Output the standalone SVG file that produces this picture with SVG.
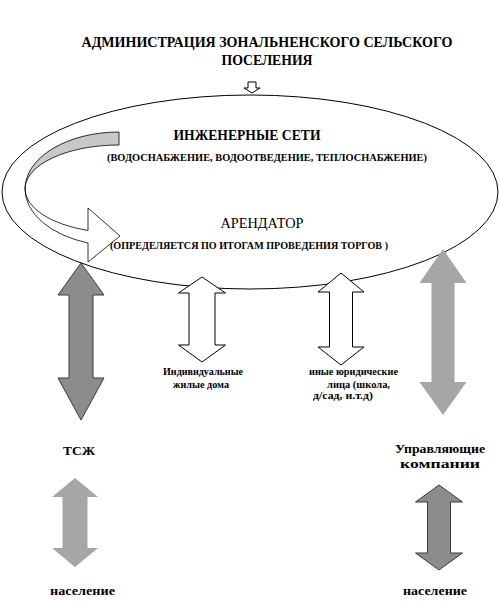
<svg xmlns="http://www.w3.org/2000/svg" width="499" height="603" viewBox="0 0 499 603" font-family="'Liberation Serif', 'DejaVu Serif', serif">
<style>
text{font-family:'Liberation Serif','DejaVu Serif',serif;fill:#000}
.b{font-weight:bold}
.ds{fill:#8c8c8c;stroke:#3a3a3a;stroke-width:1}
.lt{fill:#a6a6a6;stroke:none}
.wh{fill:#fff;stroke:#000;stroke-width:1}
</style>
<rect width="499" height="603" fill="#fff"/>
<g id="admin">
<text class="b" x="267" y="47" font-size="14.5" text-anchor="middle" textLength="371" lengthAdjust="spacingAndGlyphs">АДМИНИСТРАЦИЯ ЗОНАЛЬНЕНСКОГО СЕЛЬСКОГО</text>
<text class="b" x="267" y="65" font-size="14.5" text-anchor="middle" textLength="91" lengthAdjust="spacingAndGlyphs">ПОСЕЛЕНИЯ</text>
</g>
<g id="networks">
<ellipse cx="250" cy="192" rx="248" ry="97" fill="none" stroke="#000" stroke-width="1"/>
<path d="M119,132 A94,57 0 0,0 25,189 A94,44 0 0,1 119,145 Z" fill="#c8c8c8" stroke="#000" stroke-width="0.8"/>
<path d="M25,189 A94,57 0 0,0 88,243 L88,262 L120,236 L88,208 L88,230.5 A94,44 0 0,1 25,189 Z" fill="#fff" stroke="#000" stroke-width="0.8"/>
<text class="b" x="247" y="140" font-size="14" text-anchor="middle" textLength="147" lengthAdjust="spacingAndGlyphs">ИНЖЕНЕРНЫЕ СЕТИ</text>
<text class="b" x="267" y="161" font-size="10" text-anchor="middle" textLength="320" lengthAdjust="spacingAndGlyphs">(ВОДОСНАБЖЕНИЕ, ВОДООТВЕДЕНИЕ, ТЕПЛОСНАБЖЕНИЕ)</text>
<text x="262" y="228" font-size="14" text-anchor="middle" textLength="83" lengthAdjust="spacingAndGlyphs">АРЕНДАТОР</text>
<text class="b" x="249" y="249" font-size="10" text-anchor="middle" textLength="278" lengthAdjust="spacingAndGlyphs">(ОПРЕДЕЛЯЕТСЯ ПО ИТОГАМ ПРОВЕДЕНИЯ ТОРГОВ )</text>
</g>
<g id="connectors">
<polygon class="wh" points="248,82 256,82 256,88 260,88 252,93 244,88 248,88"/>
<polygon class="ds" points="81,263 104,295 93,295 93,378 104,378 81,420 58,378 69,378 69,295 58,295"/>
<polygon class="wh" points="202,277 225.5,293 215,293 215,345 225.5,345 202,362 178.5,345 189,345 189,293 178.5,293"/>
<polygon class="wh" points="341,273 364,292 352.5,292 352.5,347 364,347 341,365 318,347 329.5,347 329.5,292 318,292"/>
<polygon class="lt" points="443,249 466.5,283 454.5,283 454.5,382 466.5,382 443,415 419.5,382 431.5,382 431.5,283 419.5,283"/>
<polygon class="lt" points="75,478 98,497 87.5,497 87.5,548 98,548 75,567 52,548 62.5,548 62.5,497 52,497"/>
<polygon class="ds" points="439,485 462.5,502 450.5,502 450.5,553 462.5,553 439,570 415.5,553 427.5,553 427.5,502 415.5,502"/>
</g>
<g id="individual">
<text class="b" x="203" y="375" font-size="9.5" text-anchor="middle" textLength="80" lengthAdjust="spacingAndGlyphs">Индивидуальные</text>
<text class="b" x="201" y="388" font-size="9.5" text-anchor="middle" textLength="56" lengthAdjust="spacingAndGlyphs">жилые дома</text>
</g>
<g id="legal">
<text class="b" x="353.5" y="375" font-size="9.5" text-anchor="middle" textLength="89" lengthAdjust="spacingAndGlyphs">иные юридические</text>
<text class="b" x="358.5" y="388" font-size="9.5" text-anchor="middle" textLength="63" lengthAdjust="spacingAndGlyphs">лица (школа,</text>
<text class="b" x="343" y="399" font-size="9.5" text-anchor="middle" textLength="60" lengthAdjust="spacingAndGlyphs">д/сад, и.т.д)</text>
</g>
<g id="tszh">
<text class="b" x="79" y="455" font-size="13" text-anchor="middle" textLength="32" lengthAdjust="spacingAndGlyphs">ТСЖ</text>
</g>
<g id="uk">
<text class="b" x="440" y="453" font-size="13" text-anchor="middle" textLength="90" lengthAdjust="spacingAndGlyphs">Управляющие</text>
<text class="b" x="440" y="468" font-size="13" text-anchor="middle" textLength="80" lengthAdjust="spacingAndGlyphs">компании</text>
</g>
<g id="pop1">
<text class="b" x="82.5" y="595" font-size="13" text-anchor="middle" textLength="65" lengthAdjust="spacingAndGlyphs">население</text>
</g>
<g id="pop2">
<text class="b" x="435" y="595" font-size="13" text-anchor="middle" textLength="64" lengthAdjust="spacingAndGlyphs">население</text>
</g>
</svg>
